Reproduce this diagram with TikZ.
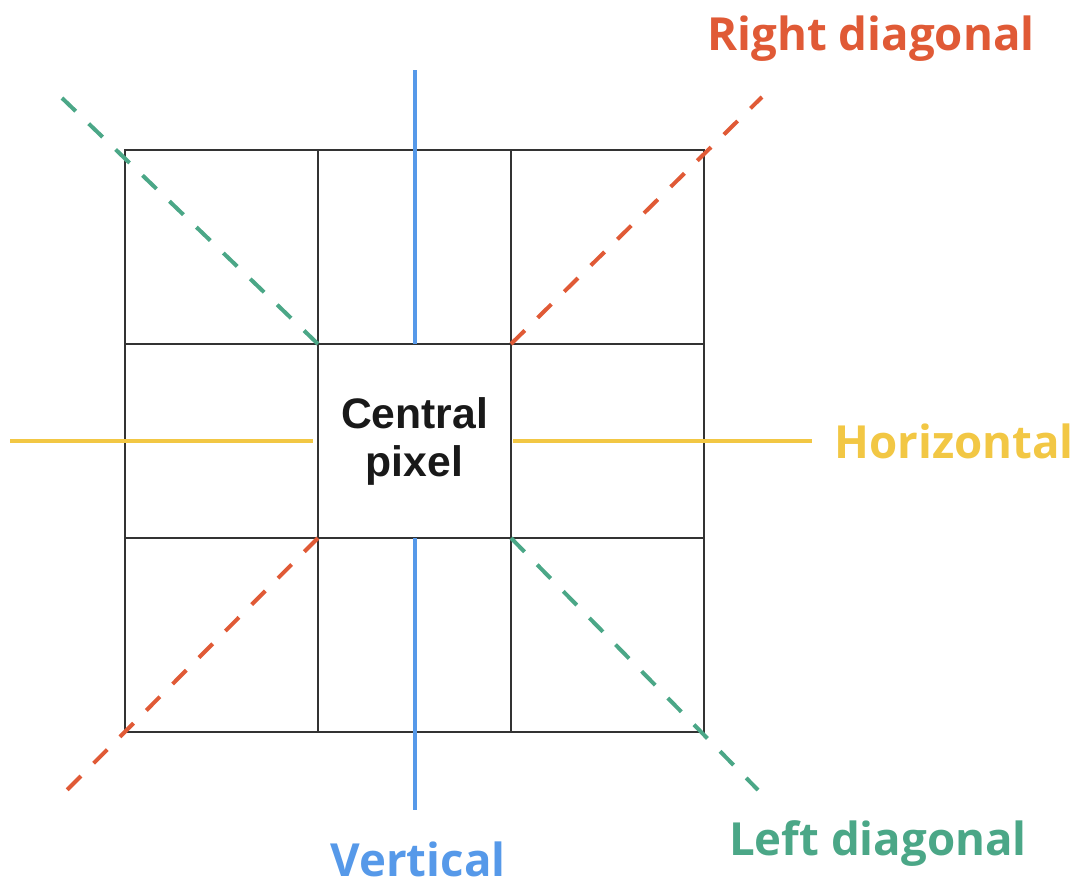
\documentclass[tikz,border=0pt]{standalone}
\usepackage{fontspec}
\newfontfamily\lblfont{Open Sans}
\newfontfamily\cpfont{Liberation Sans}
\usetikzlibrary{positioning}

\definecolor{rdiag}{HTML}{E05A36}
\definecolor{ldiag}{HTML}{4BA787}
\definecolor{vline}{HTML}{5699E9}
\definecolor{hline}{HTML}{F2C744}

\begin{document}
\begin{tikzpicture}[
  x=0.75pt, y=-0.75pt,
  cell/.style={draw=black!80, line width=1.1pt, minimum width=144.75pt,
               minimum height=145.5pt, inner sep=0pt, outer sep=0pt},
  ctext/.style={font=\cpfont\bfseries\fontsize{32}{36}\selectfont, align=center, text=black!90},
  lbl/.style={font=\lblfont\bfseries\fontsize{34.2}{40}\selectfont, anchor=base},
  solidln/.style={line width=3pt},
  dashln/.style={line width=3pt, dash pattern=on 14.5pt off 13.5pt}
]
\useasboundingbox (0,0) rectangle (1083,886);

% 3x3 neighbourhood
\foreach \r in {1,2,3}{
  \foreach \c in {1,2,3}{
    \node[cell] (c\r\c) at ({125+193*(\c-0.5)},{150+194*(\r-0.5)}) {};
  }
}
\node[ctext] (cpix) at (c22.center) {Central\\pixel};

% outer ends of the directions
\coordinate (vtop) at (413,70);
\coordinate (vbot) at (413,810);
\coordinate (hleft) at (10,441);
\coordinate (hright) at (812,441);
\coordinate (rtop) at (762,97);
\coordinate (rbot) at (67,790);
\coordinate (ltop) at (62,98);
\coordinate (lbot) at (758,790);

\draw[solidln, vline] (c22.north) -- (c22.north |- vtop);
\draw[solidln, vline] (c22.south) -- (c22.south |- vbot);
\draw[solidln, hline, shorten <=4pt] (c22.west) -- (c22.west -| hleft);
\draw[solidln, hline, shorten <=1.5pt] (c22.east) -- (c22.east -| hright);
\draw[dashln, rdiag] (c22.north east) -- (rtop);
\draw[dashln, rdiag] (c22.south west) -- (rbot);
\draw[dashln, ldiag] (c22.north west) -- (ltop);
\draw[dashln, ldiag] (c22.south east) -- (lbot);

% labels
\node[lbl, text=rdiag] (rlbl) at (871,50) {Right diagonal};
\node[lbl, text=hline] (hlbl) at (954,458) {Horizontal};
\node[lbl, text=ldiag] (llbl) at (878,855) {Left diagonal};
\node[lbl, text=vline] (vlbl) at (418,876) {Vertical};
\end{tikzpicture}
\end{document}
